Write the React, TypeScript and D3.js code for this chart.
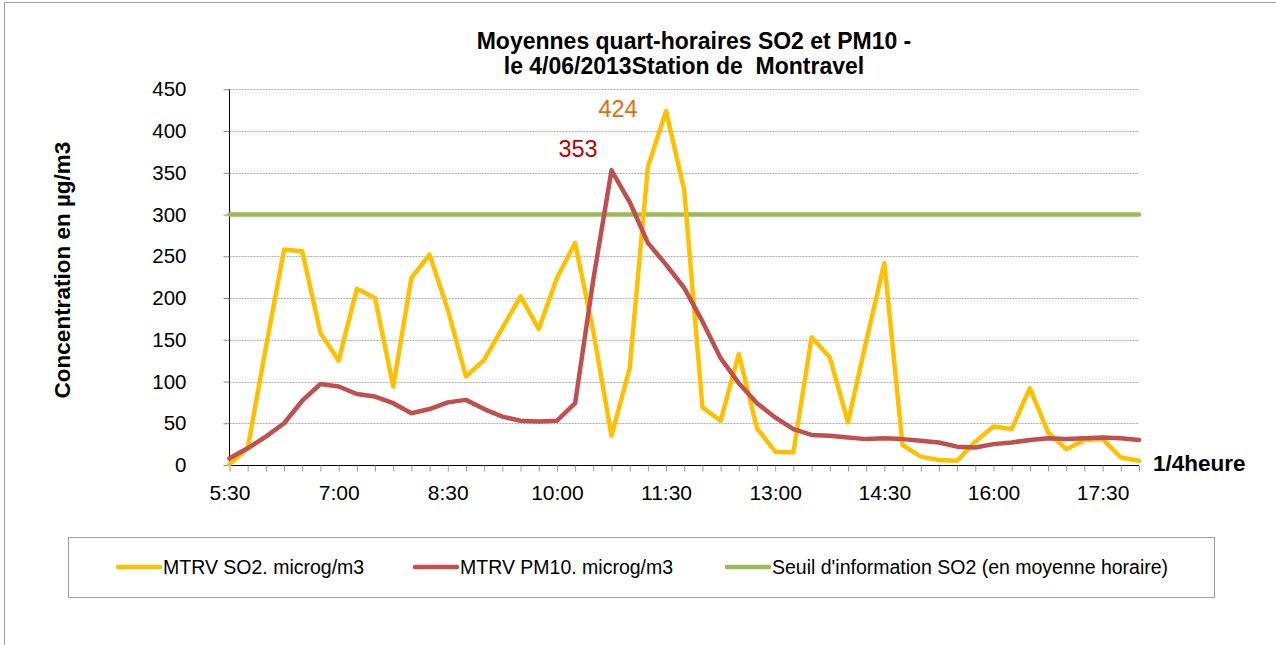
import React, { useEffect, useRef } from 'react';
import * as d3 from 'd3';

const times = [
  '5:30', '5:45', '6:00', '6:15', '6:30', '6:45', '7:00', '7:15', '7:30', '7:45',
  '8:00', '8:15', '8:30', '8:45', '9:00', '9:15', '9:30', '9:45', '10:00', '10:15',
  '10:30', '10:45', '11:00', '11:15', '11:30', '11:45', '12:00', '12:15', '12:30', '12:45',
  '13:00', '13:15', '13:30', '13:45', '14:00', '14:15', '14:30', '14:45', '15:00', '15:15',
  '15:30', '15:45', '16:00', '16:15', '16:30', '16:45', '17:00', '17:15', '17:30', '17:45',
  '18:00',
];

const so2 = [
  1, 20, 141, 258, 256, 158, 125, 211, 200, 94,
  224, 252, 186, 106, 126, 164, 202, 163, 224, 266,
  160, 35, 116, 357, 424, 329, 69, 53, 133, 44,
  16, 15, 153, 129, 51, 148, 242, 24, 10, 6,
  5, 28, 46, 43, 92, 39, 19, 30, 31, 9,
  5,
];

const pm10 = [
  8, 20, 34, 50, 77, 97, 94, 85, 82, 74,
  62, 67, 75, 78, 67, 58, 53, 52, 53, 74,
  222, 353, 315, 266, 240, 212, 172, 128, 98, 74,
  57, 43, 36, 35, 33, 31, 32, 31, 29, 27,
  22, 21, 25, 27, 30, 32, 31, 32, 33, 32,
  30,
];

const seuil = 300;
const yTicks = [0, 50, 100, 150, 200, 250, 300, 350, 400, 450];

const legendItems = [
  { label: 'MTRV SO2. microg/m3', color: '#FFC000', x: 118 },
  { label: 'MTRV PM10. microg/m3', color: '#C0504D', x: 415 },
  { label: "Seuil d'information SO2 (en moyenne horaire)", color: '#9BBB59', x: 727 },
];

const W = 1276;
const H = 645;
const FONT = 'Liberation Sans, Arial, sans-serif';

const Chart = () => {
  const ref = useRef<SVGSVGElement>(null);

  useEffect(() => {
    const svg = d3.select(ref.current);
    svg.selectAll('*').remove();

    const x = d3.scalePoint<number>()
      .domain(d3.range(times.length))
      .range([229.5, 1139]);
    const y = d3.scaleLinear().domain([0, 450]).range([465, 89.3]);

    // outer border
    svg.append('rect')
      .attr('x', 4.5).attr('y', 2.5)
      .attr('width', W).attr('height', H)
      .attr('fill', 'white').attr('stroke', '#A0A0A0');

    // gridlines
    svg.append('g')
      .selectAll('line')
      .data(yTicks.filter(d => d > 0))
      .enter().append('line')
      .attr('x1', 229.5).attr('x2', 1139)
      .attr('y1', d => Math.round(y(d)) + 0.5)
      .attr('y2', d => Math.round(y(d)) + 0.5)
      .attr('stroke', '#ACACAC')
      .attr('stroke-dasharray', '2,1');

    // y axis
    const yAxis = svg.append('g')
      .attr('transform', 'translate(229.5,0)')
      .call(d3.axisLeft(y).tickValues(yTicks).tickSize(6).tickPadding(37));
    yAxis.select('.domain').attr('stroke', '#000').attr('d', `M0,${y(450)}V${y(0)}`);
    yAxis.selectAll('.tick line').attr('stroke', '#888');
    yAxis.selectAll('text')
      .attr('font-family', FONT).attr('font-size', 20.5).attr('fill', '#000');

    // x axis
    const xAxis = svg.append('g')
      .attr('transform', `translate(0,${Math.round(y(0)) + 0.5})`)
      .call(d3.axisBottom(x).tickSize(6).tickPadding(14)
        .tickFormat(i => (i % 6 === 0 ? times[i] : '')));
    xAxis.select('.domain').attr('stroke', '#000').attr('d', `M229.5,0H1139`);
    xAxis.selectAll('.tick line').attr('stroke', '#999');
    xAxis.selectAll('text')
      .attr('font-family', FONT).attr('font-size', 21).attr('fill', '#000');

    const line = d3.line<number>()
      .x((_, i) => x(i) as number)
      .y(d => y(d));

    // threshold
    svg.append('path')
      .attr('d', line(times.map(() => seuil)))
      .attr('fill', 'none').attr('stroke', '#9BBB59')
      .attr('stroke-width', 4.5).attr('stroke-linecap', 'round');

    svg.append('path')
      .attr('d', line(so2))
      .attr('fill', 'none').attr('stroke', '#FFC000')
      .attr('stroke-width', 4.5).attr('stroke-linejoin', 'round').attr('stroke-linecap', 'round');

    svg.append('path')
      .attr('d', line(pm10))
      .attr('fill', 'none').attr('stroke', '#C0504D')
      .attr('stroke-width', 4.5).attr('stroke-linejoin', 'round').attr('stroke-linecap', 'round');

    // peak labels
    const iSo2 = d3.maxIndex(so2);
    const iPm = d3.maxIndex(pm10);
    svg.append('text')
      .attr('x', (x(iSo2) as number) - 48).attr('y', y(so2[iSo2]) + 6)
      .attr('text-anchor', 'middle')
      .attr('font-family', FONT).attr('font-size', 23.5).attr('fill', '#E46C0A')
      .text(so2[iSo2]);
    svg.append('text')
      .attr('x', (x(iPm) as number) - 33.5).attr('y', y(pm10[iPm]) - 13)
      .attr('text-anchor', 'middle')
      .attr('font-family', FONT).attr('font-size', 23.5).attr('fill', '#C00000')
      .text(pm10[iPm]);

    // title
    const title = svg.append('text')
      .attr('text-anchor', 'middle')
      .style('white-space', 'pre')
      .attr('font-family', FONT).attr('font-size', 23).attr('font-weight', 'bold');
    title.append('tspan').attr('x', 694).attr('y', 49).text('Moyennes quart-horaires SO2 et PM10 -');
    title.append('tspan').attr('x', 684).attr('y', 74).text('le 4/06/2013Station de  Montravel');

    // axis titles
    svg.append('text')
      .attr('transform', 'translate(70,270) rotate(-90)')
      .attr('text-anchor', 'middle')
      .attr('font-family', FONT).attr('font-size', 22.5).attr('font-weight', 'bold')
      .text('Concentration en µg/m3');

    svg.append('text')
      .attr('x', 1153).attr('y', 471)
      .attr('font-family', FONT).attr('font-size', 22.5).attr('font-weight', 'bold')
      .text('1/4heure');

    // legend
    svg.append('rect')
      .attr('x', 68.5).attr('y', 537.5).attr('width', 1146).attr('height', 60)
      .attr('fill', 'white').attr('stroke', '#A0A0A0');
    const lg = svg.append('g');
    legendItems.forEach(it => {
      lg.append('line')
        .attr('x1', it.x).attr('x2', it.x + 42)
        .attr('y1', 567).attr('y2', 567)
        .attr('stroke', it.color).attr('stroke-width', 4.5).attr('stroke-linecap', 'round');
      lg.append('text')
        .attr('x', it.x + 45).attr('y', 574)
        .attr('font-family', FONT).attr('font-size', 19.5)
        .text(it.label);
    });
  }, []);

  return <svg ref={ref} width={W} height={H} style={{ display: 'block' }} />;
};

export default function App() {
  return (
    <div style={{ position: 'absolute', left: 0, top: 0 }}>
      <Chart />
    </div>
  );
}
